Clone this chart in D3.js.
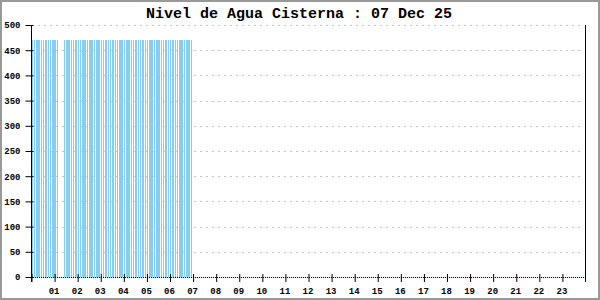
<!DOCTYPE html>
<html><head><meta charset="utf-8">
<script src="https://cdn.jsdelivr.net/npm/d3@7"></script>
<style>
html,body{margin:0;padding:0;background:#fff;}
svg{display:block;}
</style>
</head><body>
<svg id="c" width="600" height="300"></svg>
<script>
const title = "Nivel de Agua Cisterna : 07 Dec 25";
const times = [
 "00:00","00:06","00:12","00:18","00:24","00:30","00:36","00:42","00:48","00:54",
 "01:00","01:06","01:24","01:30","01:36","01:42","01:48","01:54",
 "02:00","02:06","02:12","02:18","02:24","02:30","02:36","02:42","02:48","02:54",
 "03:00","03:06","03:12","03:18","03:24","03:30","03:36","03:42","03:48","03:54",
 "04:00","04:06","04:12","04:18","04:24","04:30","04:36","04:42","04:48","04:54",
 "05:00","05:06","05:12","05:18","05:24","05:30","05:36","05:42","05:48","05:54",
 "06:00","06:06","06:12","06:18","06:24","06:30","06:36","06:42","06:48","06:54"
];
const levels = [
 470,470,470,470,470,470,470,470,470,470,
 470,470,470,470,470,470,470,470,
 470,470,470,470,470,470,470,470,470,470,
 470,470,470,470,470,470,470,470,470,470,
 470,470,470,470,470,470,470,470,470,470,
 470,470,470,470,470,470,470,470,470,470,
 470,470,470,470,470,470,470,470,470,470
];
const xTickLabels = ["01","02","03","04","05","06","07","08","09","10","11","12","13","14","15","16","17","18","19","20","21","22","23"];
const yTicks = [0,50,100,150,200,250,300,350,400,450,500];

const svg = d3.select("#c");
const L = 31, R = 585, T = 25, B = 277;
const toHour = s => { const p = s.split(":"); return +p[0] + (+p[1])/60; };
const x = d3.scaleLinear().domain([0,24]).range([L,R]);
const y = d3.scaleLinear().domain([0,500]).range([B,T]);

// outer frame
svg.append("rect").attr("x",1).attr("y",1).attr("width",598).attr("height",298)
  .attr("fill","#fff").attr("stroke","#999").attr("stroke-width",2);

// title
svg.append("text").attr("x",299).attr("y",18).attr("text-anchor","middle")
  .attr("font-family","Liberation Mono").attr("font-weight","bold").attr("font-size",15)
  .attr("fill","#000").text(title);

// grid
svg.append("g").selectAll("line").data(yTicks.filter(d=>d>0)).join("line")
  .attr("x1",L+1).attr("x2",R-1)
  .attr("y1",d=>Math.round(y(d))+0.5).attr("y2",d=>Math.round(y(d))+0.5)
  .attr("stroke","#c4c4c4").attr("stroke-dasharray","2,4");

// bars
const data = times.map((t,i)=>({h:toHour(t), v:levels[i]}));
svg.append("g").attr("shape-rendering","crispEdges").selectAll("rect").data(data).join("rect")
  .attr("x",d=>x(d.h)+0.4).attr("width",1.5)
  .attr("y",d=>y(d.v)).attr("height",d=>y(0)-y(d.v))
  .attr("fill","#87ceeb");

// x axis line (light blue + dotted black)
svg.append("line").attr("x1",L).attr("x2",R).attr("y1",B+0.5).attr("y2",B+0.5)
  .attr("stroke","#bfe6f5");
svg.append("line").attr("x1",L).attr("x2",R).attr("y1",B+0.5).attr("y2",B+0.5)
  .attr("stroke","#000").attr("stroke-dasharray","1,1");

// y axis
const yAxis = d3.axisLeft(y).tickValues(yTicks).tickSize(6).tickPadding(5);
const gy = svg.append("g").attr("transform",`translate(${L+0.5},0)`).call(yAxis);
gy.select(".domain").remove();
gy.selectAll(".tick line").attr("x1",2).attr("stroke","#000");
gy.selectAll("text").attr("font-family","Liberation Mono").attr("font-weight","bold")
  .attr("font-size",9).attr("fill","#000");
svg.append("line").attr("x1",L+0.5).attr("x2",L+0.5).attr("y1",T).attr("y2",B+5)
  .attr("stroke","#000");

// x axis ticks & labels
const xAxis = d3.axisBottom(x).tickValues(d3.range(0,24)).tickSize(5).tickPadding(6)
  .tickFormat(d => d===0 ? "" : xTickLabels[d-1]);
const gx = svg.append("g").attr("transform",`translate(0.5,${B})`).call(xAxis);
gx.select(".domain").remove();
gx.selectAll(".tick line").attr("y1",-3).attr("stroke","#000");
gx.selectAll("text").attr("font-family","Liberation Mono").attr("font-weight","bold")
  .attr("font-size",9).attr("fill","#000").attr("dx",-1);

// right border line
svg.append("line").attr("x1",R+0.5).attr("x2",R+0.5).attr("y1",T).attr("y2",B+5)
  .attr("stroke","#000");
</script>
</body></html>
